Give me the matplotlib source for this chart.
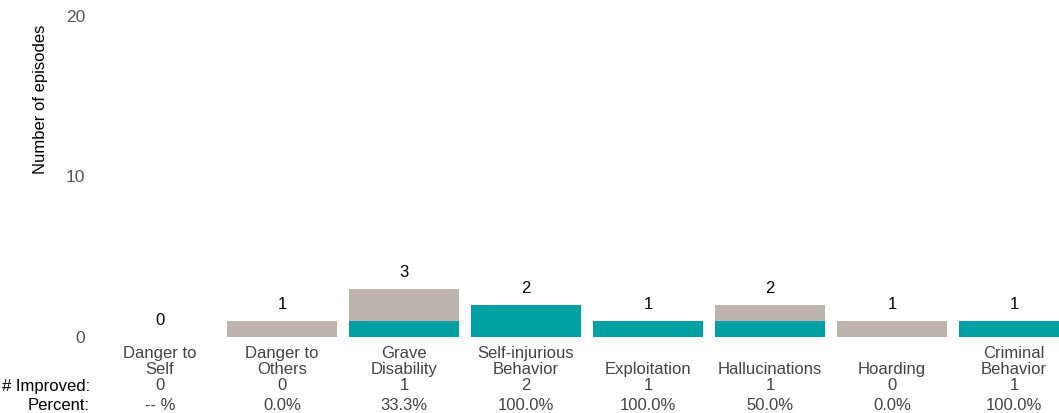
import matplotlib
matplotlib.use("Agg")
import matplotlib.pyplot as plt
import numpy as np

plt.rcParams['font.family'] = ['Liberation Sans', 'DejaVu Sans']

categories = ["Danger to\nSelf", "Danger to\nOthers", "Grave\nDisability", "Self-injurious\nBehavior",
              "Exploitation", "Hallucinations", "Hoarding", "Criminal\nBehavior"]
total = [0, 1, 3, 2, 1, 2, 1, 1]
improved = [0, 0, 1, 2, 1, 1, 0, 1]

gray = "#BEB4AE"
teal = "#00A0A3"
txt = "#444444"

W, H = 1059, 413
fig = plt.figure(figsize=(W / 100, H / 100), dpi=100)
# axis spans from x=99px to 1075px (last bar clipped by figure edge)
ax = fig.add_axes([99 / W, (H - 337) / H, 976 / W, 321 / H])

x = np.arange(len(categories))
ax.bar(x, total, width=0.9, color=gray)
ax.bar(x, improved, width=0.9, color=teal)

for i, t in enumerate(total):
    ax.annotate(str(t), (i, t), xytext=(0, 9), textcoords="offset pixels",
                ha="center", va="bottom", fontsize=12, color="black")

pct = []
for t, m in zip(total, improved):
    pct.append("-- %" if t == 0 else "%.1f%%" % (100.0 * m / t))

fs = 12
for i, c in enumerate(categories):
    ax.annotate(c, (i, 0), xytext=(0, -40), textcoords="offset pixels",
                ha="center", va="bottom", fontsize=fs, color=txt, linespacing=1.05,
                annotation_clip=False)
    ax.annotate(str(improved[i]), (i, 0), xytext=(0, -49), textcoords="offset pixels",
                ha="center", va="center", fontsize=fs, color=txt, annotation_clip=False)
    ax.annotate(pct[i], (i, 0), xytext=(0, -69), textcoords="offset pixels",
                ha="center", va="center", fontsize=fs, color=txt, annotation_clip=False)

fig.text(90 / W, (H - 386) / H, "# Improved:", ha="right", va="center", fontsize=fs, color="black")
fig.text(90 / W, (H - 406) / H, "Percent:", ha="right", va="center", fontsize=fs, color="black")

ax.set_xlim(-0.5, len(categories) - 0.5)
ax.set_ylim(0, 20)
ax.set_yticks([0, 10, 20])
ax.tick_params(axis="y", length=0, pad=10, labelsize=12.5, labelcolor="#555555")
ax.set_xticks([])
for s in ax.spines.values():
    s.set_visible(False)
ax.set_ylabel("Number of episodes", fontsize=12)
ax.yaxis.set_label_coords(-51 / 976, 0.74)

fig.savefig("out.png", dpi=100)
